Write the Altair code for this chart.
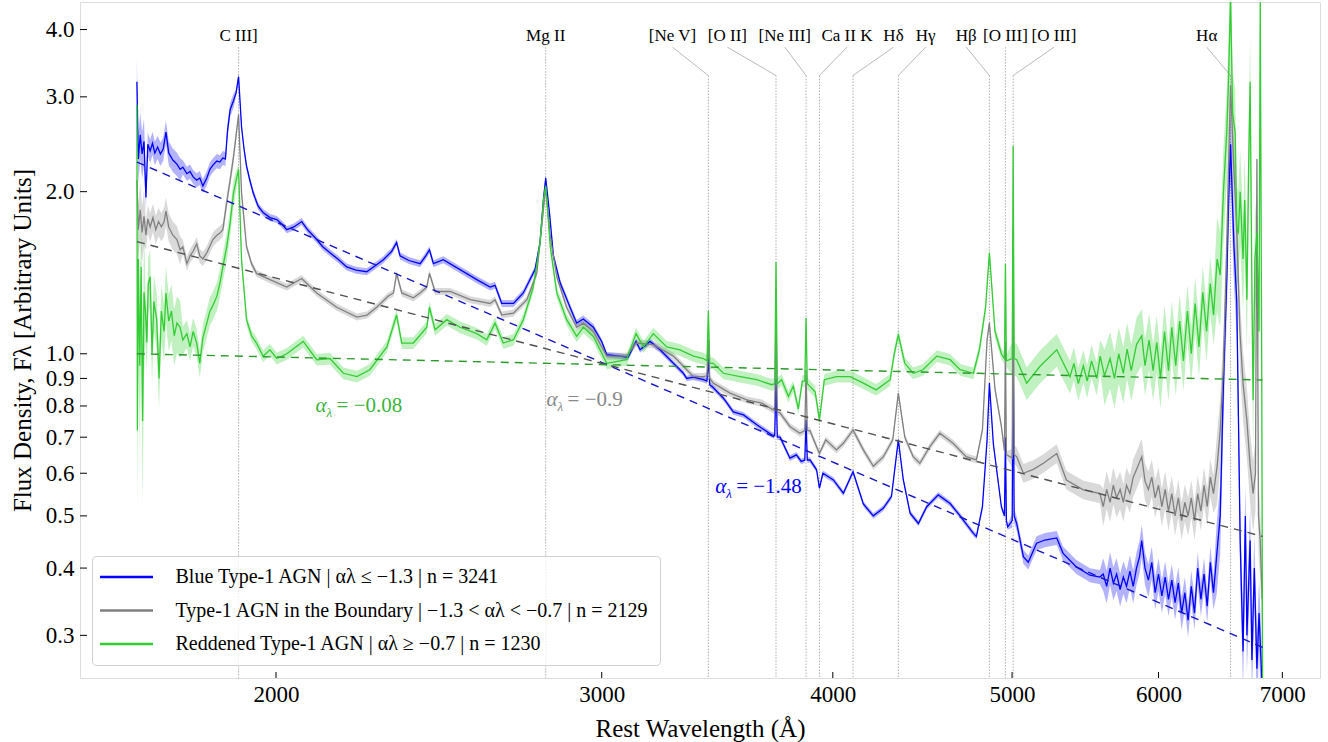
import altair as alt
import pandas as pd
import numpy as np

SERIF = "Liberation Serif"

# ---------------- data ----------------
series_names = [
    "Blue Type-1 AGN | αλ ≤ −1.3 | n = 3241",
    "Type-1 AGN in the Boundary | −1.3 < αλ < −0.7 | n = 2129",
    "Reddened Type-1 AGN | αλ ≥ −0.7 | n = 1230",
]
series_colors = ["#0000ff", "#808080", "#32cd32"]
fit_colors = ["#1414c8", "#505050", "#2a9a2a"]
ann_colors = ["#0000ff", "#888888", "#3cb43c"]

blue_pts = [
    (1682, 3.20), (1685, 2.30), (1689, 2.55), (1693, 2.35), (1697, 2.48), (1701, 1.95), (1705, 2.45),
    (1710, 2.38), (1715, 2.46), (1720, 2.36), (1726, 2.42), (1732, 2.35), (1738, 2.40), (1744, 2.58),
    (1750, 2.36), (1759, 2.29), (1768, 2.25), (1775, 2.20), (1781, 2.22), (1790, 2.16), (1797, 2.18),
    (1804, 2.13), (1812, 2.10), (1819, 2.12), (1826, 2.05), (1835, 2.12), (1842, 2.20), (1849, 2.24),
    (1858, 2.28), (1865, 2.27), (1872, 2.31), (1878, 2.30), (1883, 2.60), (1889, 2.84), (1897, 2.95),
    (1903, 3.05), (1909, 3.27), (1916, 2.64), (1922, 2.40), (1928, 2.23), (1936, 2.10), (1944, 1.99),
    (1956, 1.88), (1968, 1.83), (1985, 1.79), (2002, 1.775), (2015, 1.74), (2027, 1.70), (2045, 1.72),
    (2065, 1.76), (2080, 1.70), (2104, 1.63), (2120, 1.58), (2139, 1.54), (2160, 1.50), (2184, 1.45),
    (2210, 1.43), (2239, 1.42), (2265, 1.46), (2286, 1.495), (2310, 1.55), (2324, 1.61), (2334, 1.52),
    (2360, 1.49), (2393, 1.47), (2410, 1.52), (2421, 1.56), (2433, 1.47), (2463, 1.495), (2515, 1.433),
    (2568, 1.373), (2611, 1.33), (2627, 1.34), (2649, 1.24), (2688, 1.24), (2721, 1.297), (2761, 1.433),
    (2778, 1.605), (2790, 1.93), (2798, 2.12), (2811, 1.83), (2825, 1.52), (2849, 1.353), (2884, 1.22),
    (2908, 1.14), (2932, 1.16), (2969, 1.12), (3000, 1.054), (3019, 0.996), (3069, 0.99), (3100, 0.985),
    (3131, 1.054), (3147, 1.017), (3186, 1.054), (3226, 1.017), (3280, 0.96), (3321, 0.92), (3335, 0.90),
    (3363, 0.905), (3405, 0.895), (3420, 0.89), (3426, 0.98), (3432, 0.875), (3441, 0.87), (3491, 0.827),
    (3534, 0.78), (3579, 0.77), (3639, 0.738), (3707, 0.707), (3721, 0.705), (3727, 0.90), (3733, 0.70),
    (3746, 0.70), (3792, 0.64), (3823, 0.649), (3846, 0.631), (3863, 0.635), (3869, 0.754), (3875, 0.635),
    (3888, 0.635), (3920, 0.609), (3934, 0.563), (3951, 0.60), (4003, 0.583), (4053, 0.551), (4102, 0.604),
    (4155, 0.526), (4207, 0.50), (4260, 0.517), (4303, 0.543), (4340, 0.692), (4367, 0.583), (4404, 0.506),
    (4450, 0.484), (4496, 0.52), (4561, 0.547), (4629, 0.527), (4687, 0.50), (4765, 0.464), (4783, 0.458),
    (4819, 0.52), (4847, 0.692), (4861, 0.882), (4885, 0.68), (4934, 0.52), (4953, 0.50), (4959, 0.70),
    (4965, 0.49), (4973, 0.477), (5001, 0.49), (5007, 1.13), (5013, 0.50), (5029, 0.484), (5071, 0.42),
    (5102, 0.41), (5155, 0.445), (5209, 0.451), (5286, 0.455), (5328, 0.426), (5417, 0.402), (5509, 0.388),
    (5578, 0.385), (5601, 0.39), (5625, 0.37), (5649, 0.40), (5672, 0.375), (5695, 0.39), (5720, 0.365),
    (5743, 0.385), (5766, 0.37), (5790, 0.395), (5814, 0.37), (5838, 0.40), (5860, 0.42), (5876, 0.45),
    (5900, 0.40), (5925, 0.38), (5950, 0.41), (5975, 0.36), (6000, 0.39), (6025, 0.355), (6050, 0.385),
    (6075, 0.35), (6100, 0.38), (6125, 0.345), (6150, 0.375), (6175, 0.33), (6200, 0.36), (6225, 0.32),
    (6250, 0.37), (6275, 0.33), (6300, 0.40), (6325, 0.35), (6350, 0.39), (6375, 0.34), (6400, 0.41),
    (6425, 0.36), (6450, 0.42), (6479, 0.50), (6505, 0.88), (6533, 1.40), (6546, 1.90), (6563, 2.45),
    (6590, 1.60), (6614, 1.25), (6630, 0.70), (6642, 0.45), (6666, 0.28), (6685, 0.50), (6698, 0.30),
    (6725, 0.45), (6740, 0.27), (6760, 0.40), (6782, 0.26), (6800, 0.33), (6826, 0.24),
]

gray_pts = [
    (1682, 2.10), (1685, 1.70), (1689, 1.85), (1693, 1.68), (1697, 1.80), (1701, 1.66), (1705, 1.78),
    (1710, 1.72), (1716, 1.79), (1722, 1.70), (1728, 1.76), (1734, 1.72), (1740, 1.76), (1744, 1.84),
    (1750, 1.72), (1759, 1.66), (1768, 1.63), (1775, 1.56), (1781, 1.58), (1790, 1.47), (1797, 1.52),
    (1804, 1.55), (1812, 1.60), (1819, 1.52), (1826, 1.50), (1835, 1.54), (1849, 1.63), (1858, 1.66),
    (1865, 1.675), (1872, 1.70), (1881, 1.91), (1889, 2.10), (1897, 2.32), (1909, 2.78), (1916, 1.99),
    (1928, 1.58), (1940, 1.47), (1952, 1.41), (1985, 1.373), (2027, 1.33), (2065, 1.38), (2104, 1.297),
    (2157, 1.22), (2212, 1.17), (2240, 1.18), (2267, 1.22), (2300, 1.28), (2315, 1.297), (2324, 1.41),
    (2339, 1.297), (2373, 1.27), (2393, 1.297), (2413, 1.33), (2421, 1.41), (2438, 1.305), (2484, 1.305),
    (2547, 1.26), (2611, 1.24), (2627, 1.26), (2649, 1.18), (2688, 1.19), (2733, 1.26), (2767, 1.41),
    (2784, 1.72), (2798, 2.04), (2814, 1.65), (2837, 1.39), (2872, 1.22), (2908, 1.12), (2932, 1.14),
    (2969, 1.10), (3019, 0.99), (3095, 0.99), (3131, 1.047), (3199, 1.04), (3280, 0.99), (3335, 0.934),
    (3363, 0.907), (3405, 0.907), (3420, 0.91), (3426, 1.062), (3432, 0.90), (3447, 0.882), (3520, 0.845),
    (3594, 0.821), (3662, 0.81), (3714, 0.787), (3721, 0.785), (3727, 1.157), (3733, 0.78), (3746, 0.776),
    (3792, 0.733), (3839, 0.712), (3863, 0.72), (3869, 0.934), (3875, 0.72), (3888, 0.72), (3913, 0.682),
    (3934, 0.653), (3965, 0.692), (4018, 0.663), (4053, 0.682), (4102, 0.722), (4155, 0.663), (4207, 0.618),
    (4260, 0.644), (4310, 0.692), (4340, 0.845), (4375, 0.70), (4421, 0.644), (4458, 0.626), (4513, 0.672),
    (4570, 0.712), (4646, 0.682), (4722, 0.644), (4783, 0.635), (4819, 0.722), (4847, 1.062), (4861, 1.14),
    (4895, 0.86), (4934, 0.733), (4953, 0.66), (4959, 1.05), (4965, 0.65), (5001, 0.64), (5007, 1.70),
    (5013, 0.65), (5029, 0.644), (5071, 0.60), (5134, 0.61), (5199, 0.626), (5286, 0.653), (5350, 0.583),
    (5464, 0.559), (5578, 0.55), (5601, 0.52), (5625, 0.56), (5649, 0.53), (5672, 0.57), (5695, 0.54),
    (5720, 0.56), (5743, 0.53), (5766, 0.57), (5790, 0.55), (5814, 0.59), (5838, 0.61), (5876, 0.644),
    (5900, 0.58), (5925, 0.56), (5950, 0.59), (5975, 0.54), (6000, 0.57), (6025, 0.52), (6050, 0.56),
    (6075, 0.51), (6100, 0.55), (6125, 0.50), (6150, 0.54), (6175, 0.49), (6200, 0.53), (6225, 0.50),
    (6250, 0.54), (6275, 0.49), (6300, 0.55), (6325, 0.51), (6350, 0.57), (6375, 0.52), (6400, 0.59),
    (6425, 0.55), (6454, 0.618), (6479, 0.72), (6505, 0.95), (6533, 1.60), (6546, 2.20), (6563, 3.15),
    (6590, 2.20), (6614, 1.70), (6640, 1.10), (6666, 0.88), (6698, 0.75), (6725, 0.62), (6750, 0.55),
    (6770, 0.60), (6782, 2.30), (6795, 0.50), (6810, 0.45), (6826, 0.35),
]

green_pts = [
    (1682, 2.90), (1683, 0.72), (1685, 1.50), (1688, 0.95), (1691, 1.45), (1694, 0.75), (1697, 1.30),
    (1700, 1.20), (1703, 1.05), (1706, 1.35), (1710, 1.39), (1714, 1.00), (1718, 1.25), (1724, 1.157),
    (1729, 0.90), (1734, 1.20), (1740, 1.10), (1744, 1.297), (1750, 1.15), (1756, 1.20), (1762, 1.08),
    (1768, 1.14), (1775, 1.12), (1781, 1.06), (1790, 1.09), (1797, 1.03), (1804, 1.10), (1812, 1.047),
    (1819, 0.96), (1826, 1.07), (1835, 1.14), (1842, 1.20), (1849, 1.23), (1858, 1.278), (1865, 1.35),
    (1872, 1.45), (1881, 1.58), (1889, 1.75), (1897, 1.99), (1909, 2.20), (1916, 1.495), (1928, 1.157),
    (1940, 1.08), (1952, 1.047), (1968, 0.99), (1985, 1.017), (2002, 0.98), (2027, 1.00), (2069, 1.054),
    (2104, 0.975), (2139, 0.98), (2175, 0.92), (2212, 0.907), (2248, 0.934), (2296, 1.03), (2324, 1.18),
    (2339, 1.047), (2373, 1.047), (2413, 1.12), (2421, 1.22), (2438, 1.108), (2474, 1.157), (2515, 1.12),
    (2568, 1.09), (2600, 1.062), (2627, 1.14), (2654, 1.047), (2688, 1.062), (2721, 1.157), (2755, 1.33),
    (2778, 1.60), (2790, 1.93), (2798, 2.05), (2814, 1.58), (2837, 1.297), (2872, 1.157), (2908, 1.077),
    (2932, 1.12), (2969, 1.077), (3019, 0.96), (3095, 0.975), (3131, 1.09), (3160, 1.03), (3199, 1.09),
    (3253, 1.03), (3307, 1.017), (3363, 0.99), (3405, 0.98), (3420, 0.97), (3426, 1.20), (3432, 0.96),
    (3447, 0.96), (3491, 0.92), (3564, 0.907), (3639, 0.895), (3707, 0.876), (3721, 0.88), (3727, 1.48),
    (3733, 0.88), (3753, 0.895), (3785, 0.833), (3808, 0.87), (3832, 0.79), (3851, 0.89), (3863, 0.89),
    (3869, 1.165), (3875, 0.88), (3888, 0.87), (3913, 0.85), (3934, 0.754), (3958, 0.895), (4018, 0.907),
    (4087, 0.907), (4155, 0.882), (4222, 0.857), (4296, 0.895), (4318, 1.00), (4340, 1.085), (4375, 0.96),
    (4421, 0.92), (4475, 0.934), (4553, 0.99), (4629, 0.975), (4687, 0.934), (4765, 0.92), (4801, 1.017),
    (4838, 1.22), (4861, 1.54), (4895, 1.10), (4934, 1.00), (4953, 0.98), (4959, 1.47), (4965, 0.97),
    (5001, 0.98), (5007, 2.43), (5013, 0.98), (5029, 0.975), (5092, 0.882), (5176, 0.947), (5286, 1.017),
    (5374, 0.907), (5400, 0.96), (5430, 0.88), (5464, 0.95), (5490, 0.89), (5520, 0.97), (5556, 0.90),
    (5580, 0.99), (5610, 0.91), (5649, 0.98), (5680, 0.90), (5710, 1.00), (5743, 0.92), (5770, 1.02),
    (5800, 0.93), (5838, 1.04), (5876, 1.08), (5900, 0.95), (5930, 1.06), (5960, 0.93), (5987, 1.05),
    (6015, 0.90), (6045, 1.10), (6075, 0.93), (6100, 1.12), (6130, 0.95), (6160, 1.15), (6189, 0.97),
    (6220, 1.20), (6250, 1.00), (6280, 1.24), (6310, 1.03), (6340, 1.30), (6370, 1.10), (6399, 1.35),
    (6426, 1.18), (6454, 1.50), (6479, 1.40), (6505, 2.00), (6533, 2.60), (6546, 3.20), (6563, 4.60),
    (6580, 2.80), (6601, 2.57), (6614, 1.70), (6627, 1.68), (6642, 2.00), (6666, 1.50), (6680, 1.93),
    (6698, 1.26), (6712, 2.20), (6725, 3.20), (6740, 1.30), (6750, 0.82), (6765, 1.50), (6782, 1.68),
    (6800, 1.10), (6810, 4.60), (6823, 0.90), (6830, 0.24),
]

# relative uncertainty of the composite (shaded band), by wavelength range
err_edges = [1700, 1780, 1900, 2800, 3000, 5000, 5600, 6450]
blue_err = [0.10, 0.05, 0.03, 0.015, 0.015, 0.012, 0.03, 0.07, 0.15]
gray_err = [0.12, 0.06, 0.03, 0.015, 0.015, 0.015, 0.04, 0.08, 0.15]
green_err = [0.30, 0.12, 0.06, 0.025, 0.025, 0.025, 0.07, 0.12, 0.20]

# power-law fits (dashed): end points
fit_waves = [1682, 6830]
fit_blue = [2.27, 0.285]
fit_gray = [1.615, 0.458]
fit_green = [1.0, 0.894]
fit_alpha_text = ["= −1.48", "= −0.9", "= −0.08"]
# anchor of each slope annotation (left of alpha, text baseline)
fit_label_wave = [3455, 2801, 2101]
fit_label_flux = [0.551, 0.801, 0.778]

# emission / absorption lines
line_names = ["C III]", "Mg II", "[Ne V]", "[O II]", "[Ne III]", "Ca II K", "Hδ", "Hγ", "Hβ",
              "[O III]", "[O III]", "Hα"]
line_waves = [1909, 2798, 3426, 3727, 3869, 3934, 4102, 4340, 4861, 4959, 5007, 6563]
line_label_waves = [1909, 2798, 3276, 3508, 3768, 4071, 4314, 4490, 4723, 4959, 5268, 6371]
label_flux = 3.806
conn_top_flux = 3.71
conn_elbow_flux = 3.286

x_ticks = [2000, 3000, 4000, 5000, 6000, 7000]
y_ticks = [0.3, 0.4, 0.5, 0.6, 0.7, 0.8, 0.9, 1.0, 2.0, 3.0, 4.0]
x_domain = [1567, 7336]
y_domain = [0.25, 4.5]

# ---------------- tables ----------------
def make_df(pts, errs, name):
    w = np.array([p[0] for p in pts], float)
    f = np.array([p[1] for p in pts], float)
    e = np.array(errs)[np.searchsorted(err_edges, w, side="right")]
    return pd.DataFrame({"wave": w, "flux": f, "lo": f * (1 - e), "hi": f * (1 + e), "series": name})

dfs = [make_df(blue_pts, blue_err, series_names[0]),
       make_df(gray_pts, gray_err, series_names[1]),
       make_df(green_pts, green_err, series_names[2])]
spec_df = pd.concat(dfs, ignore_index=True)

fit_rows = []
for name, col, vals in zip(series_names, fit_colors, [fit_blue, fit_gray, fit_green]):
    for w, f in zip(fit_waves, vals):
        fit_rows.append({"wave": w, "flux": f, "series": name, "fc": col})
fit_df = pd.DataFrame(fit_rows)

ann_df = pd.DataFrame({"wave": fit_label_wave, "flux": fit_label_flux,
                       "txt": fit_alpha_text, "fc": ann_colors})

lines_df = pd.DataFrame({"name": line_names, "wave": line_waves, "lwave": line_label_waves})
lines_df["direct"] = lines_df["wave"] == lines_df["lwave"]
lines_df["top"] = np.where(lines_df["direct"], conn_top_flux, conn_elbow_flux)
lines_df["bottom"] = y_domain[0]
lines_df["ctop"] = conn_top_flux
lines_df["celbow"] = conn_elbow_flux
lines_df["lflux"] = label_flux
diag_df = lines_df[~lines_df["direct"]]

xt_df = pd.DataFrame({"t": x_ticks})
yt_df = pd.DataFrame({"t": y_ticks})

# ---------------- scales / axes ----------------
xs = alt.Scale(type="log", domain=x_domain, nice=False, zero=False)
ys = alt.Scale(type="log", domain=y_domain, nice=False, zero=False)

xax = alt.Axis(values=x_ticks, format="d", ticks=False, domain=False, grid=False,
               labelFont=SERIF, labelFontSize=23, labelColor="black", labelPadding=5,
               labelFlush=False, labelOverlap=False,
               title="Rest Wavelength (Å)", titleFont=SERIF, titleFontSize=25,
               titleFontWeight="normal", titleColor="black", titlePadding=10)
yax = alt.Axis(values=y_ticks, format=".1f", ticks=False, domain=False, grid=False,
               labelFont=SERIF, labelFontSize=23, labelColor="black", labelPadding=6,
               labelFlush=False, labelOverlap=False,
               title="Flux Density, Fλ [Arbitrary Units]", titleFont=SERIF, titleFontSize=25,
               titleFontWeight="normal", titleColor="black", titlePadding=10)

def X(field):
    return alt.X(field, type="quantitative", scale=xs, axis=xax)

def Y(field):
    return alt.Y(field, type="quantitative", scale=ys, axis=yax)

# ---------------- layers ----------------
vlines = alt.Chart(lines_df).mark_rule(color="#9a9a9a", strokeWidth=0.8, strokeDash=[1.5, 1.5]).encode(
    x=X("wave"), y=Y("top"), y2="bottom:Q")

diag = alt.Chart(diag_df).mark_rule(color="#8a8a8a", strokeWidth=0.6).encode(
    x=X("lwave"), y=Y("ctop"), x2="wave:Q", y2="celbow:Q")

line_text = alt.Chart(lines_df).mark_text(font=SERIF, fontSize=17, color="black",
                                          align="center", baseline="alphabetic").encode(
    x=X("lwave"), y=Y("lflux"), text="name:N")

bands = []
for name, col, df in zip(series_names, series_colors, dfs):
    bands.append(alt.Chart(df).mark_area(color=col, opacity=0.3, clip=True).encode(
        x=X("wave"), y=Y("lo"), y2="hi:Q"))

legend = alt.Legend(orient="none", legendX=12, legendY=554, title=None,
                    symbolType="M-5.3,0H5.3", symbolSize=100, symbolStrokeWidth=2.5,
                    symbolOffset=13.5, labelOffset=39, labelFont=SERIF, labelFontSize=20,
                    labelColor="black", labelLimit=1000, padding=11, rowPadding=13.5,
                    fillColor="rgba(255,255,255,0.8)", strokeColor="#d0d0d0", cornerRadius=4)

spec_lines = alt.Chart(spec_df).mark_line(strokeWidth=1.3, clip=True).encode(
    x=X("wave"), y=Y("flux"),
    color=alt.Color("series:N", scale=alt.Scale(domain=series_names, range=series_colors), legend=legend),
    order=alt.Order("wave:Q"))

fits = alt.Chart(fit_df).mark_line(strokeDash=[8, 6], strokeWidth=1.4, clip=True).encode(
    x=X("wave"), y=Y("flux"), color=alt.Color("fc:N", scale=None), detail="series:N")

ann_alpha = alt.Chart(ann_df).mark_text(font=SERIF, fontSize=21, fontStyle="italic",
                                        align="left", baseline="alphabetic").encode(
    x=X("wave"), y=Y("flux"), text=alt.value("α"), color=alt.Color("fc:N", scale=None))
ann_sub = alt.Chart(ann_df).mark_text(font=SERIF, fontSize=13, fontStyle="italic",
                                      align="left", baseline="alphabetic", dx=11, dy=5).encode(
    x=X("wave"), y=Y("flux"), text=alt.value("λ"), color=alt.Color("fc:N", scale=None))
ann_val = alt.Chart(ann_df).mark_text(font=SERIF, fontSize=21, align="left",
                                      baseline="alphabetic", dx=21).encode(
    x=X("wave"), y=Y("flux"), text="txt:N", color=alt.Color("fc:N", scale=None))

xticks = alt.Chart(xt_df).mark_rule(color="black", strokeWidth=1).encode(
    x=X("t"), y=alt.value(676), y2=alt.value(670))
yticks = alt.Chart(yt_df).mark_rule(color="black", strokeWidth=1).encode(
    y=Y("t"), x=alt.value(0), x2=alt.value(7))

chart = alt.layer(
    vlines, diag, line_text, *bands, spec_lines, fits, ann_alpha, ann_sub, ann_val, xticks, yticks
).properties(
    width=1240, height=676,
    autosize=alt.AutoSizeParams(type="none"),
    padding={"left": 80, "top": 2, "right": 8, "bottom": 64},
).configure_view(stroke="black", strokeWidth=1.2).configure(background="white")

chart.save("out.html", embed_options={"renderer": "svg", "actions": False})
